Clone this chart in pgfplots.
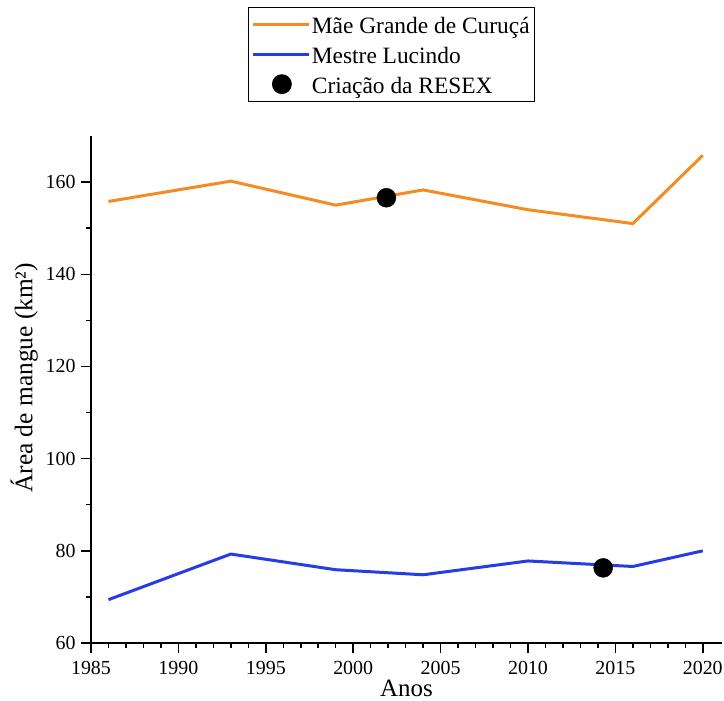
\documentclass[border=0pt]{standalone}
\usepackage{fontspec}
\setmainfont{Liberation Serif}
\usepackage{pgfplots}
\pgfplotsset{compat=1.18}
\definecolor{orig}{RGB}{242,140,35}
\definecolor{blu}{RGB}{40,60,230}
\pgfplotsset{
  linelegend/.style={legend image code/.code={\draw[##1] (0bp,0bp) -- (56bp,0bp);}},
  marklegend/.style={legend image code/.code={\draw[##1] plot[only marks] coordinates {(29bp,0bp)};\path (0bp,0bp) (56bp,0bp);}},
}
\begin{document}
\begin{tikzpicture}
\useasboundingbox (-91bp,-58bp) rectangle (633bp,643bp);
\begin{axis}[
  scale only axis, width=631bp, height=507bp,
  xmin=1985, xmax=2021.1, ymin=60, ymax=170,
  axis x line*=bottom, axis y line*=left,
  axis line style={line width=1.6bp, -},
  xtick={1985,1990,...,2020}, minor x tick num=4,
  ytick={60,80,...,160}, minor y tick num=1,
  tick align=outside, major tick length=10bp, minor tick length=5bp,
  major tick style={line width=1.5bp, black},
  minor tick style={line width=1.5bp, black},
  tick label style={font=\fontsize{20}{22}\selectfont},
  /pgf/number format/assume math mode=true,
  x tick label style={/pgf/number format/1000 sep={}, yshift=-5bp},
  y tick label style={xshift=-2bp},
  xlabel={Anos},
  xlabel style={at={(axis description cs:0.5,-0.072)}, anchor=north, inner sep=0pt, font=\fontsize{25}{30}\selectfont},
  ylabel={Área de mangue (km²)},
  ylabel style={at={(axis description cs:-0.084,0.523)}, anchor=south, inner sep=0pt, font=\fontsize{25.5}{30}\selectfont},
  legend style={at={(axis description cs:0.2488,1.2549)}, anchor=north west, draw=black, line width=0.8bp,
    font=\fontsize{23.5}{28}\selectfont, row sep=4bp, inner xsep=3bp, inner ysep=4bp,
    nodes={inner sep=1.5bp, text height=21bp, text depth=2bp}},
  legend cell align=left,
]
\addplot[orig, line width=3bp, linelegend]
  coordinates {(1986,155.8) (1993,160.2) (1999,155.0) (2004,158.3) (2010,154.0) (2016,151.0) (2020,165.8)};
\addlegendentry{Mãe Grande de Curuçá}
\addplot[blu, line width=3bp, linelegend]
  coordinates {(1986,69.4) (1993,79.3) (1999,75.9) (2004,74.8) (2010,77.8) (2016,76.6) (2020,80.0)};
\addlegendentry{Mestre Lucindo}
\addplot[only marks, mark=*, mark size=9.5bp, black, marklegend]
  coordinates {(2001.9,156.6) (2014.3,76.3)};
\addlegendentry{Criação da RESEX}
\end{axis}
\end{tikzpicture}
\end{document}
